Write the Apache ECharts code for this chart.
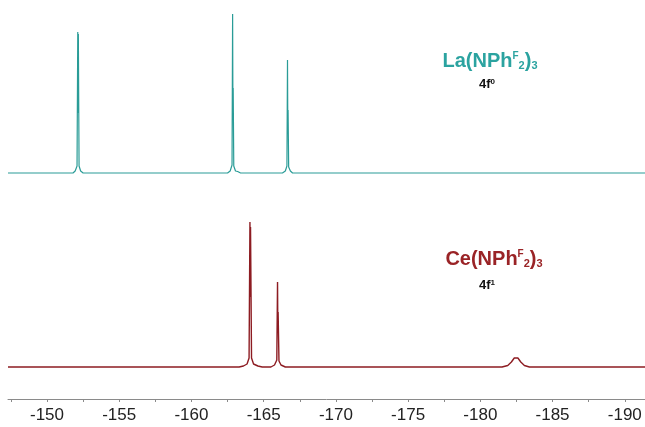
<!DOCTYPE html>
<html>
<head>
<meta charset="utf-8">
<script src="https://cdn.jsdelivr.net/npm/echarts@6/dist/echarts.min.js"></script>
<style>
  html, body { margin: 0; padding: 0; background: #fff; }
  #chart { width: 645px; height: 427px; }
</style>
</head>
<body>
<div id="chart"></div>
<script>
// chemical shift (ppm) / intensity pairs
const laSpectrum = [
  [-147.3, 0],
  [-151.8, 0], [-151.95, 2], [-152.08, 7], [-152.13, 141], [-152.15, 60], [-152.17, 139], [-152.22, 7], [-152.33, 2], [-152.5, 0],
  [-154.1, 0], [-154.2, 1.5], [-154.3, 0],
  [-162.5, 0], [-162.68, 2], [-162.81, 8], [-162.85, 159], [-162.87, 70], [-162.89, 85], [-162.93, 7], [-163.05, 2], [-163.2, 1.5], [-163.3, 2], [-163.4, 0],
  [-166.3, 0], [-166.5, 2], [-166.61, 7], [-166.65, 113], [-166.67, 50], [-166.69, 63], [-166.73, 6], [-166.85, 2], [-167.0, 0],
  [-191.4, 0]
];

const ceSpectrum = [
  [-147.3, 0],
  [-154.1, 0], [-154.2, 2], [-154.3, 0],
  [-163.3, 0], [-163.6, 1], [-163.85, 3], [-163.99, 9], [-164.05, 145], [-164.07, 70], [-164.09, 140], [-164.16, 9], [-164.3, 3], [-164.6, 1], [-164.9, 0],
  [-165.5, 0], [-165.75, 2], [-165.91, 7], [-165.96, 85], [-165.98, 40], [-166.0, 55], [-166.06, 6], [-166.2, 2], [-166.5, 0],
  [-181.5, 0], [-181.9, 1.5], [-182.15, 5], [-182.35, 9], [-182.47, 10], [-182.6, 9], [-182.8, 5], [-183.05, 1.5], [-183.4, 0],
  [-191.4, 0]
];

const labelTicks = [-150, -155, -160, -165, -170, -175, -180, -185, -190];
const allTicks = [-147.5, -150, -152.5, -155, -157.5, -160, -162.5, -165, -167.5, -170,
  -172.5, -175, -177.5, -180, -182.5, -185, -187.5, -190];

const xMin = -191.4, xMax = -147.3;
const teal = '#2a9c97', wine = '#8d1c22';

let myChart = echarts.init(document.getElementById('chart'));

myChart.setOption({
  animation: false,
  textStyle: { fontFamily: 'Liberation Sans, Arial, sans-serif' },
  grid: [
    { left: 8, right: 0, top: 0, height: 200 },
    { left: 8, right: 0, top: 200, bottom: 28 }
  ],
  xAxis: [
    { gridIndex: 0, type: 'value', min: xMin, max: xMax, inverse: true, show: false },
    {
      gridIndex: 1, type: 'value', min: xMin, max: xMax, inverse: true,
      axisLine: { show: true, onZero: false, lineStyle: { color: '#8a8a8a', width: 1 } },
      axisTick: { show: true, length: 3, customValues: allTicks, lineStyle: { color: '#8a8a8a' } },
      axisLabel: { customValues: labelTicks, fontSize: 17, color: '#222', margin: 8 },
      splitLine: { show: false }
    }
  ],
  yAxis: [
    { gridIndex: 0, type: 'value', min: -27, max: 173, show: false },
    { gridIndex: 1, type: 'value', min: -32, max: 167, show: false }
  ],
  series: [
    {
      type: 'line', xAxisIndex: 0, yAxisIndex: 0, data: laSpectrum,
      showSymbol: false, lineStyle: { color: teal, width: 1.2 }
    },
    {
      type: 'line', xAxisIndex: 1, yAxisIndex: 1, data: ceSpectrum,
      showSymbol: false, lineStyle: { color: wine, width: 1.4 }
    }
  ],
  graphic: [
    {
      type: 'text', x: 490, y: 61,
      style: {
        text: '{a|La(NPh}{sp|F}{sb|2}{a|)}{sb|3}',
        align: 'center', verticalAlign: 'middle',
        rich: {
          a: { fontSize: 20, fontWeight: 'bold', fill: '#2ba3a0', fontFamily: 'Liberation Sans' },
          sp: { fontSize: 10, fontWeight: 'bold', fill: '#2ba3a0', verticalAlign: 'top', fontFamily: 'Liberation Sans' },
          sb: { fontSize: 11, fontWeight: 'bold', fill: '#2ba3a0', verticalAlign: 'bottom', fontFamily: 'Liberation Sans' }
        }
      }
    },
    {
      type: 'text', x: 487, y: 84,
      style: {
        text: '{a|4f}{sp|0}',
        align: 'center', verticalAlign: 'middle',
        rich: {
          a: { fontSize: 13, fontWeight: 'bold', fill: '#111', fontFamily: 'Liberation Sans' },
          sp: { fontSize: 8, fontWeight: 'bold', fill: '#111', verticalAlign: 'top', fontFamily: 'Liberation Sans' }
        }
      }
    },
    {
      type: 'text', x: 494, y: 259,
      style: {
        text: '{a|Ce(NPh}{sp|F}{sb|2}{a|)}{sb|3}',
        align: 'center', verticalAlign: 'middle',
        rich: {
          a: { fontSize: 20, fontWeight: 'bold', fill: '#9a2326', fontFamily: 'Liberation Sans' },
          sp: { fontSize: 10, fontWeight: 'bold', fill: '#9a2326', verticalAlign: 'top', fontFamily: 'Liberation Sans' },
          sb: { fontSize: 11, fontWeight: 'bold', fill: '#9a2326', verticalAlign: 'bottom', fontFamily: 'Liberation Sans' }
        }
      }
    },
    {
      type: 'text', x: 487, y: 285,
      style: {
        text: '{a|4f}{sp|1}',
        align: 'center', verticalAlign: 'middle',
        rich: {
          a: { fontSize: 13, fontWeight: 'bold', fill: '#111', fontFamily: 'Liberation Sans' },
          sp: { fontSize: 8, fontWeight: 'bold', fill: '#111', verticalAlign: 'top', fontFamily: 'Liberation Sans' }
        }
      }
    }
  ]
});
</script>
</body>
</html>
